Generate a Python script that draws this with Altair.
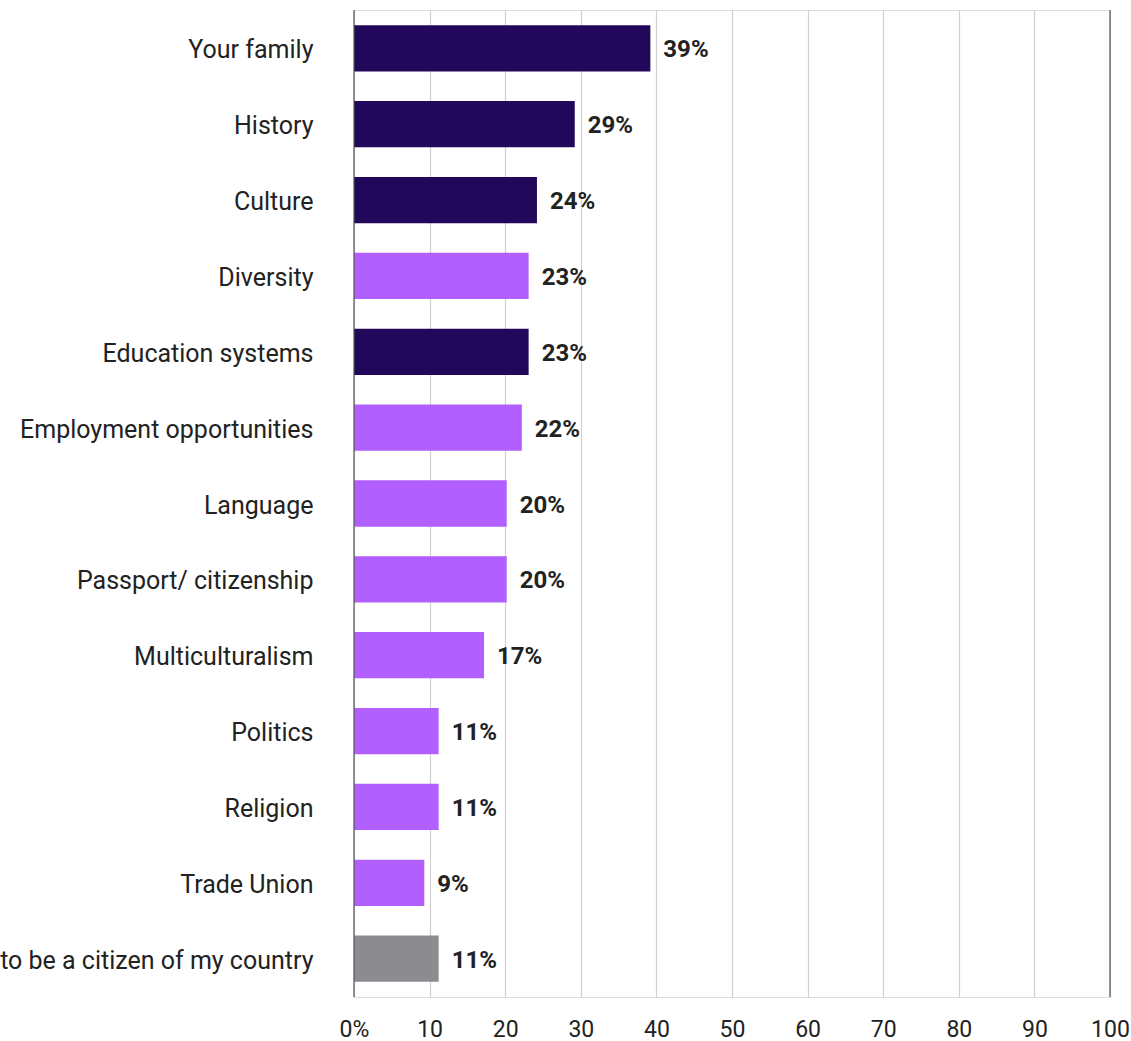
import altair as alt
import pandas as pd

categories = ["Your family", "History", "Culture", "Diversity", "Education systems",
              "Employment opportunities", "Language", "Passport/ citizenship",
              "Multiculturalism", "Politics", "Religion", "Trade Union",
              "to be a citizen of my country"]
values = [39.2, 29.2, 24.2, 23.1, 23.1, 22.2, 20.2, 20.2, 17.2, 11.2, 11.2, 9.3, 11.2]
groups = ["dark", "dark", "dark", "light", "dark", "light", "light", "light",
          "light", "light", "light", "light", "gray"]
edge_lines = [0, 100]

df = pd.DataFrame({"category": categories, "value": values, "group": groups})
df["label"] = [f"{round(v)}%" for v in values]

FONT = "Roboto"

y_enc = alt.Y("category:N", sort=categories,
              scale=alt.Scale(paddingInner=0.39, paddingOuter=0.2),
              axis=alt.Axis(title=None, ticks=False, domain=False, labelPadding=41,
                            labelOffset=2,
                            labelFontSize=25, labelColor="#222222", labelFont=FONT,
                            labelLimit=0))

x_scale = alt.Scale(domain=[0, 100], nice=False)

bars = alt.Chart(df).mark_bar().encode(
    x=alt.X("value:Q", scale=x_scale,
            axis=alt.Axis(title=None, values=list(range(0, 101, 10)), grid=True,
                          gridColor="#d0d0d0", gridWidth=1.2, ticks=False, domain=False,
                          labelPadding=21, labelFontSize=23, labelColor="#222222",
                          labelFont=FONT, labelFlush=False,
                          labelExpr="datum.value == 0 ? '0%' : datum.label")),
    y=y_enc,
    color=alt.Color("group:N", legend=None,
                    scale=alt.Scale(domain=["dark", "light", "gray"],
                                    range=["#22085a", "#b25fff", "#8b8b90"])),
)

text = alt.Chart(df).mark_text(align="left", baseline="middle", dx=13, dy=2,
                               fontSize=24, fontWeight="bold", color="#222222",
                               font=FONT).encode(
    x=alt.X("value:Q", scale=x_scale),
    y=alt.Y("category:N", sort=categories),
    text="label:N",
)

rules = alt.Chart(pd.DataFrame({"x": edge_lines})).mark_rule(
    color="#555555", strokeWidth=1.2).encode(x=alt.X("x:Q", scale=x_scale))

chart = alt.layer(bars, rules, text).properties(
    width=756, height=987,
    autosize=alt.AutoSizeParams(type="none"),
    padding={"left": 354, "top": 10, "right": 21, "bottom": 44},
).configure_view(stroke=None).configure(background="white")

chart.save("out.html", embed_options={"renderer": "svg", "actions": False})
